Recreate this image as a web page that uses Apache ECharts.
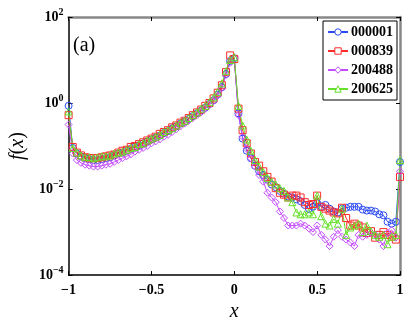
<!DOCTYPE html>
<html>
<head>
<meta charset="utf-8">
<script src="https://cdn.jsdelivr.net/npm/echarts@6/dist/echarts.min.js"></script>
<style>
  html, body { margin: 0; padding: 0; background: #fff; }
  #fx { width: 409px; height: 327px; }
</style>
</head>
<body>
<div id="fx"></div>
<script>
// x 轴取值 (bin 中心)
var xs = [-1, -0.975, -0.95, -0.925, -0.9, -0.875, -0.85, -0.825, -0.8, -0.775,
    -0.75, -0.725, -0.7, -0.675, -0.65, -0.625, -0.6, -0.575, -0.55, -0.525,
    -0.5, -0.475, -0.45, -0.425, -0.4, -0.375, -0.35, -0.325, -0.3, -0.275,
    -0.25, -0.225, -0.2, -0.175, -0.15, -0.125, -0.1, -0.075, -0.05, -0.025,
    0, 0.025, 0.05, 0.075, 0.1, 0.125, 0.15, 0.175, 0.2, 0.225,
    0.25, 0.275, 0.3, 0.325, 0.35, 0.375, 0.4, 0.425, 0.45, 0.475,
    0.5, 0.525, 0.55, 0.575, 0.6, 0.625, 0.65, 0.675, 0.7, 0.725,
    0.75, 0.775, 0.8, 0.825, 0.85, 0.875, 0.9, 0.925, 0.95, 0.975, 1]

var names = ['000001', '000839', '200488', '200625']
var colors = ['#2c4cf2', '#ff2b2b', '#c44cff', '#66e02a']
var symbols = ['circle', 'rect', 'diamond', 'triangle']

var s000001 = [0.861, 0.0905, 0.067, 0.0577, 0.0522, 0.0496, 0.0472, 0.0472, 0.0496, 0.0522,
    0.0549, 0.0606, 0.067, 0.0705, 0.0779, 0.0861, 0.0951, 0.105, 0.116, 0.128,
    0.142, 0.157, 0.174, 0.202, 0.223, 0.259, 0.286, 0.333, 0.368, 0.427,
    0.496, 0.577, 0.670, 0.779, 0.951, 1.16, 1.57, 2.34, 4.72, 9.51,
    11.05, 0.577, 0.149, 0.0779, 0.0522, 0.035, 0.0259, 0.0212, 0.0165, 0.0128,
    0.0111, 0.00905, 0.00779, 0.0067, 0.00637, 0.00577, 0.00522, 0.00427, 0.0035, 0.00387,
    0.00472, 0.00387, 0.00427, 0.0035, 0.00301, 0.00286, 0.0035, 0.00368, 0.00387, 0.00387,
    0.00387, 0.00333, 0.00316, 0.00316, 0.00301, 0.00259, 0.00246, 0.00174, 0.00157, 0.00174, 0.0427]

var s000839 = [0.522, 0.0951, 0.0705, 0.0606, 0.0549, 0.0522, 0.0522, 0.0522, 0.0549, 0.0577,
    0.0606, 0.0637, 0.0705, 0.0779, 0.0819, 0.0951, 0.1, 0.111, 0.122, 0.135,
    0.149, 0.165, 0.192, 0.212, 0.234, 0.272, 0.301, 0.350, 0.387, 0.449,
    0.522, 0.606, 0.705, 0.861, 1.0, 1.28, 1.74, 2.59, 5.22, 12.8,
    10.5, 0.741, 0.234, 0.116, 0.067, 0.0427, 0.035, 0.0259, 0.0192, 0.0149,
    0.0105, 0.00819, 0.00741, 0.00637, 0.00705, 0.00705, 0.00637, 0.00496, 0.00427, 0.00449,
    0.00705, 0.00387, 0.0035, 0.00316, 0.00286, 0.00272, 0.00368, 0.00212, 0.00142, 0.00157,
    0.00142, 0.00128, 0.000951, 0.00105, 0.000741, 0.000861, 0.001, 0.000861, 0.000779, 0.00067, 0.0192]

var s200488 = [0.316, 0.067, 0.0472, 0.0406, 0.0368, 0.035, 0.0333, 0.0333, 0.035, 0.0368,
    0.0387, 0.0427, 0.0472, 0.0522, 0.0577, 0.0637, 0.0741, 0.0819, 0.0905, 0.1,
    0.116, 0.128, 0.142, 0.165, 0.182, 0.212, 0.246, 0.286, 0.333, 0.387,
    0.449, 0.522, 0.606, 0.741, 0.905, 1.11, 1.49, 2.23, 4.49, 8.61,
    11.05, 0.522, 0.165, 0.0861, 0.0522, 0.0333, 0.0212, 0.0149, 0.00819, 0.00637,
    0.00496, 0.00301, 0.00212, 0.00142, 0.00142, 0.00142, 0.00157, 0.00142, 0.00122, 0.001,
    0.00142, 0.000861, 0.00067, 0.000472, 0.000779, 0.00111, 0.000779, 0.00067, 0.000577, 0.000472,
    0.000861, 0.000779, 0.000861, 0.000951, 0.000861, 0.00067, 0.000472, 0.000951, 0.00111, 0.000741, 0.0259]

var s200625 = [0.637, 0.0905, 0.0705, 0.0606, 0.0549, 0.0549, 0.0522, 0.0549, 0.0577, 0.0577,
    0.0606, 0.067, 0.0705, 0.0741, 0.0819, 0.0905, 0.0951, 0.111, 0.116, 0.135,
    0.149, 0.165, 0.182, 0.212, 0.234, 0.259, 0.301, 0.350, 0.387, 0.449,
    0.522, 0.606, 0.741, 0.861, 1.05, 1.35, 1.82, 2.86, 5.49, 10,
    11.6, 0.861, 0.301, 0.142, 0.0779, 0.0472, 0.0333, 0.0246, 0.0182, 0.0149,
    0.0128, 0.0105, 0.00905, 0.00637, 0.00496, 0.00286, 0.00259, 0.00259, 0.00286, 0.00259,
    0.00705, 0.00234, 0.00157, 0.00142, 0.00202, 0.00157, 0.0035, 0.000861, 0.00128, 0.00142,
    0.00157, 0.001, 0.00142, 0.00105, 0.000861, 0.000779, 0.000861, 0.000522, 0.000779, 0.000861, 0.0472]

var serif = '"Liberation Serif", "DejaVu Serif", serif'

function pairs(ys) {
    let out = []
    for (let i = 0; i < xs.length; i++) {
        out.push([xs[i], ys[i]])
    }
    return out
}

function minus(v) {
    return v < 0 ? '\u2212' + Math.abs(v) : String(v)
}

function makeSeries(i, ys) {
    return {
        name: names[i],
        type: 'line',
        data: pairs(ys),
        symbol: symbols[i],
        symbolSize: 7,
        showSymbol: true,
        lineStyle: { color: colors[i], width: 1 },
        itemStyle: { color: 'rgba(255,255,255,0)', borderColor: colors[i], borderWidth: 1 },
        emphasis: { disabled: true },
        animation: false
    }
}

function echart() {
    let dom = document.getElementById('fx')
    let myChart = echarts.init(dom, null, { renderer: 'canvas' })
    let legendData = names.map(function (n, i) {
        return { name: n, itemStyle: { color: '#fff', borderColor: colors[i], borderWidth: 1 } }
    })
    let option = {
        backgroundColor: '#fff',
        grid: { left: 57, right: 9, top: 17, bottom: 34 },
        legend: {
            orient: 'vertical',
            right: 12,
            top: 21,
            backgroundColor: '#fff',
            borderColor: '#000',
            borderWidth: 1,
            padding: [4, 4, 4, 4],
            itemGap: 5,
            itemWidth: 20,
            itemHeight: 8,
            textStyle: { fontFamily: serif, fontWeight: 'bold', fontSize: 14, color: '#000', padding: [0, 0, 0, -2] },
            data: legendData
        },
        graphic: [{
            type: 'text',
            left: 73,
            top: 36,
            style: { text: '(a)', font: '20px ' + serif, fill: '#000' }
        }],
        xAxis: [{
            type: 'value',
            min: -1,
            max: 1,
            interval: 0.5,
            name: 'x',
            nameLocation: 'middle',
            nameGap: 23,
            nameTextStyle: { fontFamily: serif, fontStyle: 'italic', fontSize: 20, color: '#000' },
            axisLine: { show: true, onZero: false, lineStyle: { color: '#000', width: 1.5 } },
            axisTick: { inside: true, length: 4, lineStyle: { color: '#000' } },
            axisLabel: {
                margin: 8,
                fontFamily: serif, fontWeight: 'bold', fontSize: 14, color: '#000',
                formatter: function (v) { return minus(v) }
            },
            splitLine: { show: false }
        }, {
            type: 'value',
            position: 'top',
            min: -1,
            max: 1,
            interval: 0.5,
            axisLine: { show: true, onZero: false, lineStyle: { color: '#888', width: 2.5 } },
            axisTick: { inside: true, length: 4, lineStyle: { color: '#000' } },
            axisLabel: { show: false },
            splitLine: { show: false }
        }],
        yAxis: [{
            type: 'log',
            logBase: 10,
            position: 'left',
            min: 1e-4,
            max: 1e2,
            interval: 2,
            name: '{i|f}{n|(}{i|x}{n|)}',
            nameLocation: 'middle',
            nameRotate: 90,
            nameGap: 34,
            nameTextStyle: {
                rich: {
                    i: { fontFamily: serif, fontStyle: 'italic', fontSize: 20, color: '#000' },
                    n: { fontFamily: serif, fontSize: 20, color: '#000' }
                }
            },
            axisLine: { show: true, onZero: false, lineStyle: { color: '#000', width: 1.5 } },
            axisTick: { inside: true, length: 4, lineStyle: { color: '#000' } },
            minorTick: { show: false },
            axisLabel: {
                margin: 5,
                formatter: function (v) {
                    let e = Math.round(Math.log10(v))
                    return '{b|10}{s|' + minus(e) + '}'
                },
                rich: {
                    b: { fontFamily: serif, fontWeight: 'bold', fontSize: 14, color: '#000' },
                    s: { fontFamily: serif, fontWeight: 'bold', fontSize: 10, color: '#000', padding: [0, 0, 9, 0] }
                }
            },
            splitLine: { show: false }
        }, {
            type: 'log',
            logBase: 10,
            position: 'right',
            min: 1e-4,
            max: 1e2,
            interval: 2,
            axisLine: { show: true, onZero: false, lineStyle: { color: '#888', width: 2.5 } },
            axisTick: { inside: true, length: 4, lineStyle: { color: '#000' } },
            axisLabel: { show: false },
            splitLine: { show: false }
        }],
        series: [
            makeSeries(0, s000001),
            makeSeries(1, s000839),
            makeSeries(2, s200488),
            makeSeries(3, s200625)
        ]
    }
    myChart.setOption(option)
}

echart()
</script>
</body>
</html>
